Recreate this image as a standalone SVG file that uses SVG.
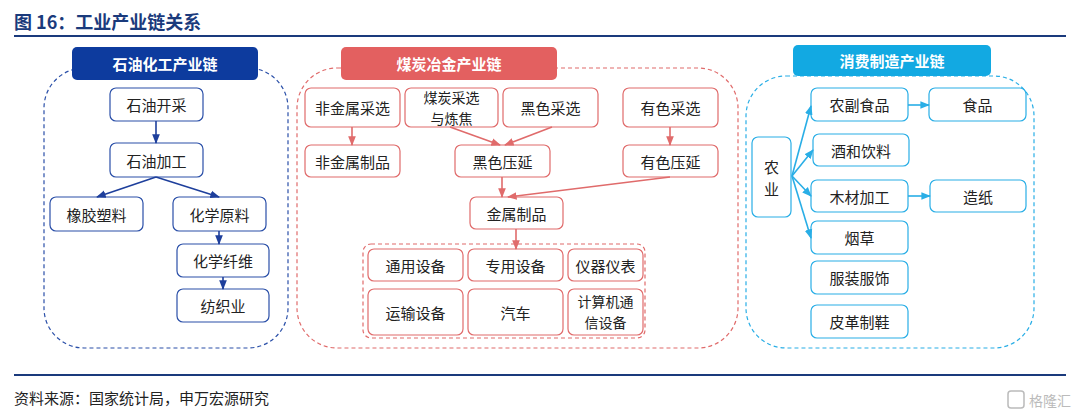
<svg xmlns="http://www.w3.org/2000/svg" width="1080" height="417" viewBox="0 0 1080 417">
<style>
text{font-family:"Noto Sans CJK SC","Liberation Sans",sans-serif;font-size:15px;fill:#222;text-anchor:middle;dominant-baseline:central}
.b rect{fill:#fff;stroke:#2a4fa8;stroke-width:1.2}
.r rect{fill:#fff;stroke:#e06b6b;stroke-width:1.2}
.c rect{fill:#fff;stroke:#29aee6;stroke-width:1.2}
.h{font-weight:bold;fill:#fff}
.t2{font-size:14px}
</style>
<defs>
<marker id="ab" viewBox="0 0 10 10" refX="9" refY="5" markerWidth="6" markerHeight="6" orient="auto"><path d="M0,1L10,5L0,9z" fill="#1e3f9c"/></marker>
<marker id="ar" viewBox="0 0 10 10" refX="9" refY="5" markerWidth="6" markerHeight="6" orient="auto"><path d="M0,1L10,5L0,9z" fill="#e06b6b"/></marker>
<marker id="ac" viewBox="0 0 10 10" refX="9" refY="5" markerWidth="6" markerHeight="6" orient="auto"><path d="M0,1L10,5L0,9z" fill="#29aee6"/></marker>
</defs>
<rect width="1080" height="417" fill="#fff"/>
<text x="14" y="21" style="text-anchor:start;font-size:18px;font-weight:bold;fill:#1a3a7c">图 16：工业产业链关系</text>
<line x1="14" y1="36" x2="1066" y2="36" stroke="#1a3a7c" stroke-width="2"/>
<line x1="14" y1="375" x2="1066" y2="375" stroke="#1a3a7c" stroke-width="2"/>
<text x="14" y="397" style="text-anchor:start;font-size:15px">资料来源：国家统计局，申万宏源研究</text>
<text x="1050" y="400" style="font-size:14px;fill:#bbb">格隆汇</text>
<rect x="1008" y="391" width="16" height="17" rx="3" fill="none" stroke="#bbb" stroke-width="1.5"/>

<g id="panel-left" class="b">
<rect x="44" y="68" width="244" height="280" rx="40" fill="none" stroke="#2a4fa8" stroke-dasharray="4 3" style="fill:none"/>
<rect x="72" y="47" width="186" height="33" rx="5" style="fill:#0d3b9e;stroke:none"/>
<text x="165" y="63.5" class="h">石油化工产业链</text>
</g>
<g id="n-syck" class="b"><rect x="110" y="88" width="93" height="33" rx="6"/><text x="156.5" y="104.5">石油开采</text></g>
<g id="n-syjg" class="b"><rect x="110" y="143" width="93" height="34" rx="6"/><text x="156.5" y="160">石油加工</text></g>
<g id="n-xjsl" class="b"><rect x="50" y="197" width="93" height="34" rx="6"/><text x="96.5" y="214">橡胶塑料</text></g>
<g id="n-hxyl" class="b"><rect x="173" y="197" width="93" height="34" rx="6"/><text x="219.5" y="214">化学原料</text></g>
<g id="n-hxxw" class="b"><rect x="177" y="244" width="92" height="33" rx="6"/><text x="223" y="260.5">化学纤维</text></g>
<g id="n-fzy" class="b"><rect x="177" y="289" width="92" height="33" rx="6"/><text x="223" y="305.5">纺织业</text></g>

<g id="panel-mid" class="r">
<rect x="297" y="68" width="441" height="280" rx="40" style="fill:none" stroke-dasharray="4 3"/>
<rect x="341" y="47" width="216" height="33" rx="5" style="fill:#e36060;stroke:none"/>
<text x="449" y="63.5" class="h">煤炭冶金产业链</text>
</g>
<g id="n-fjscx" class="r"><rect x="305" y="88" width="95" height="39" rx="6"/><text x="352.5" y="107.5">非金属采选</text></g>
<g id="n-mtcx" class="r"><rect x="405" y="88" width="93" height="39" rx="6"/><text x="451.5" y="97" class="t2">煤炭采选</text><text x="451.5" y="118" class="t2">与炼焦</text></g>
<g id="n-hscx" class="r"><rect x="503" y="88" width="95" height="39" rx="6"/><text x="550.5" y="107.5">黑色采选</text></g>
<g id="n-yscx" class="r"><rect x="623" y="88" width="95" height="39" rx="6"/><text x="670.5" y="107.5">有色采选</text></g>
<g id="n-fjszp" class="r"><rect x="305" y="145" width="95" height="32" rx="6"/><text x="352.5" y="161">非金属制品</text></g>
<g id="n-hsyy" class="r"><rect x="455" y="145" width="95" height="32" rx="6"/><text x="502.5" y="161">黑色压延</text></g>
<g id="n-ysyy" class="r"><rect x="623" y="145" width="95" height="32" rx="6"/><text x="670.5" y="161">有色压延</text></g>
<g id="n-jszp" class="r"><rect x="470" y="197" width="93" height="32" rx="6"/><text x="516.5" y="213">金属制品</text></g>
<g id="grp-equip" class="r"><rect x="363" y="244" width="282" height="94" rx="8" style="fill:none" stroke-dasharray="4 3"/></g>
<g id="n-tysb" class="r"><rect x="368" y="249" width="95" height="32" rx="6"/><text x="415.5" y="265">通用设备</text></g>
<g id="n-zysb" class="r"><rect x="468" y="249" width="95" height="32" rx="6"/><text x="515.5" y="265">专用设备</text></g>
<g id="n-yqyb" class="r"><rect x="568" y="249" width="75" height="32" rx="6"/><text x="605.5" y="265">仪器仪表</text></g>
<g id="n-yssb" class="r"><rect x="368" y="289" width="95" height="46" rx="6"/><text x="415.5" y="312">运输设备</text></g>
<g id="n-qc" class="r"><rect x="468" y="289" width="95" height="46" rx="6"/><text x="515.5" y="312">汽车</text></g>
<g id="n-jsj" class="r"><rect x="568" y="289" width="75" height="46" rx="6"/><text x="605.5" y="301" class="t2">计算机通</text><text x="605.5" y="322" class="t2">信设备</text></g>

<g id="panel-right" class="c">
<rect x="746" y="76" width="288" height="272" rx="40" style="fill:none" stroke-dasharray="4 3"/>
<rect x="793" y="45" width="198" height="31" rx="5" style="fill:#12a9e2;stroke:none"/>
<text x="892" y="60.5" class="h">消费制造产业链</text>
</g>
<g id="n-ny" class="c"><rect x="752" y="137" width="39" height="80" rx="6"/><text x="771.5" y="166">农</text><text x="771.5" y="188">业</text></g>
<g id="n-nfsp" class="c"><rect x="811" y="88" width="97" height="33" rx="6"/><text x="859.5" y="104.5">农副食品</text></g>
<g id="n-jhyl" class="c"><rect x="813" y="134" width="96" height="32" rx="6"/><text x="861" y="150">酒和饮料</text></g>
<g id="n-mcjg" class="c"><rect x="811" y="180" width="97" height="32" rx="6"/><text x="859.5" y="196">木材加工</text></g>
<g id="n-yc" class="c"><rect x="811" y="221" width="97" height="33" rx="6"/><text x="859.5" y="237.5">烟草</text></g>
<g id="n-fzfs" class="c"><rect x="811" y="261" width="97" height="33" rx="6"/><text x="859.5" y="277.5">服装服饰</text></g>
<g id="n-pgzx" class="c"><rect x="811" y="305" width="97" height="33" rx="6"/><text x="859.5" y="321.5">皮革制鞋</text></g>
<g id="n-sp" class="c"><rect x="929" y="88" width="97" height="33" rx="6"/><text x="977.5" y="104.5">食品</text></g>
<g id="n-zz" class="c"><rect x="930" y="180" width="96" height="32" rx="6"/><text x="978" y="196">造纸</text></g>

<g id="connectors" fill="none" stroke-width="1.6">
<g stroke="#1e3f9c" marker-end="url(#ab)">
<path d="M156,121V143"/><path d="M156,177L97,197"/><path d="M156,177L219,197"/><path d="M219,231V244"/><path d="M223,277V289"/>
</g>
<g stroke="#e06b6b" marker-end="url(#ar)">
<path d="M352,127V145"/><path d="M450,127L500,145"/><path d="M552,127L505,145"/><path d="M670,127V145"/><path d="M502,177V197"/><path d="M670,177L508,197"/><path d="M516,229V249"/>
</g>
<g stroke="#29aee6" marker-end="url(#ac)">
<path d="M792,176L811,106"/><path d="M792,176L813,150"/><path d="M792,176L811,196"/><path d="M792,176L811,238"/><path d="M908,105H929"/><path d="M908,196H930"/>
</g>
</g>
</svg>
